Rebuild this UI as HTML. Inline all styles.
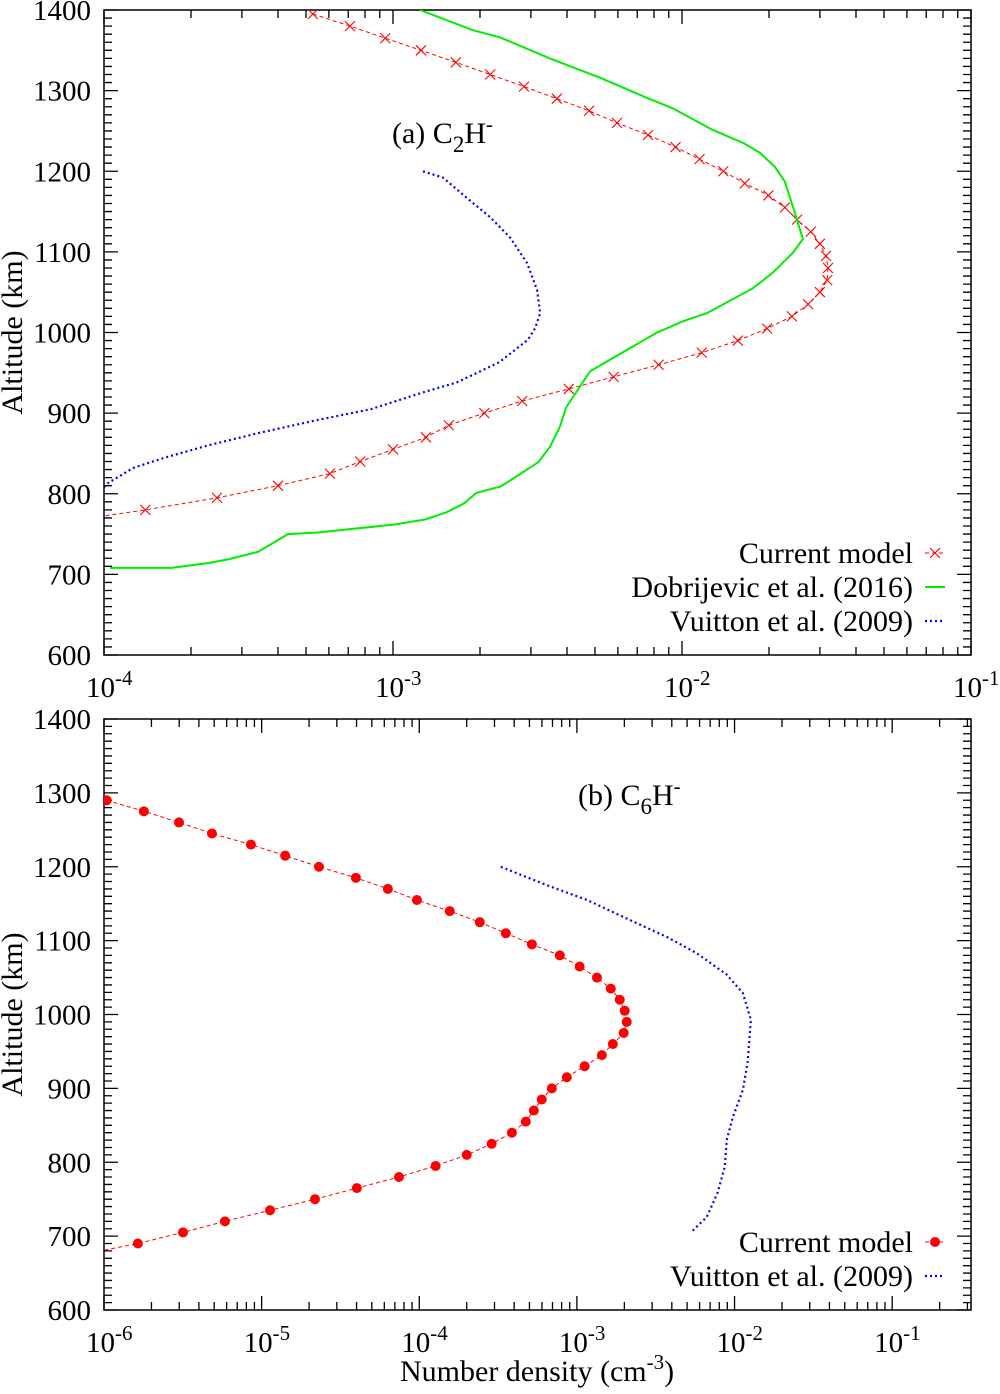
<!DOCTYPE html>
<html><head><meta charset="utf-8"><style>
body{margin:0;background:#fff}
svg text{font-family:"Liberation Serif",serif;fill:#000}
</style></head><body>
<svg id="chart" width="1000" height="1389" viewBox="0 0 1000 1389" xmlns="http://www.w3.org/2000/svg">
<defs>
<clipPath id="clipA"><rect x="104" y="10" width="867" height="645"/></clipPath>
<clipPath id="clipB"><rect x="104" y="719" width="867" height="591"/></clipPath>
</defs>
<g id="root"></g>
</svg>
<script>
// ---- Panel (a) C2H- data ----
const aCurAlt=[1395,1380,1365,1350,1335,1320,1305,1290,1275,1260,1245,1230,1215,1200,1185,1170,1155,1140,1125,1110,1095,1080,1065,1050,1035,1020,1005,990,975,960,945,930,915,900,885,870,855,840,825,810,795,780,770];
const aCurVal=[5.28e-4,7.1e-4,9.4e-4,1.25e-3,1.65e-3,2.17e-3,2.84e-3,3.69e-3,4.77e-3,5.96e-3,7.63e-3,9.5e-3,1.15e-2,1.39e-2,1.65e-2,1.99e-2,2.27e-2,2.5e-2,2.79e-2,3.0e-2,3.15e-2,3.2e-2,3.18e-2,3.0e-2,2.73e-2,2.4e-2,1.97e-2,1.56e-2,1.17e-2,8.3e-3,5.8e-3,4.06e-3,2.8e-3,2.07e-3,1.56e-3,1.3e-3,1.0e-3,7.7e-4,6.05e-4,4.0e-4,2.46e-4,1.39e-4,9e-5];
const aDobAlt=[1400,1375,1366,1340,1316,1291,1278,1251,1235,1223,1205,1187,1156,1116,1099,1074,1055,1024,1014,1000,952,907,883,858,839,809,801,788,777,768,762,752,750,728,719,714,708,708];
const aDobVal=[1.24e-3,1.89e-3,2.35e-3,3.49e-3,5.2e-3,7.57e-3,9.3e-3,1.28e-2,1.63e-2,1.86e-2,2.1e-2,2.27e-2,2.42e-2,2.62e-2,2.42e-2,2.06e-2,1.76e-2,1.22e-2,1.01e-2,8.2e-3,4.81e-3,3.97e-3,3.78e-3,3.49e-3,3.18e-3,2.36e-3,1.94e-3,1.76e-3,1.53e-3,1.29e-3,1.02e-3,5.5e-4,4.33e-4,3.41e-4,2.71e-4,2.29e-4,1.71e-4,1.05e-4];
const aVuiAlt=[1200,1192,1167,1143,1118,1086,1053,1024,1005,991,963,938,925,905,891,876,860,845,832,813,800];
const aVuiVal=[1.27e-3,1.49e-3,1.8e-3,2.17e-3,2.54e-3,2.91e-3,3.15e-3,3.23e-3,3.1e-3,2.93e-3,2.33e-3,1.66e-3,1.25e-3,8.4e-4,5.4e-4,3.49e-4,2.29e-4,1.63e-4,1.26e-4,1.03e-4,9.5e-5];
// ---- Panel (b) C6H- data ----
const bCurAlt=[1290,1275,1260,1245,1230,1215,1200,1185,1170,1155,1140,1125,1110,1095,1080,1065,1050,1035,1020,1005,990,975,960,945,930,915,900,885,870,855,840,825,810,795,780,765,750,735,720,705,690,680];
const bCurVal=[1.04e-6,1.79e-6,2.99e-6,4.84e-6,8.55e-6,1.41e-5,2.31e-5,3.96e-5,6.32e-5,9.66e-5,1.56e-4,2.42e-4,3.54e-4,5.18e-4,7.79e-4,1.04e-3,1.34e-3,1.64e-3,1.87e-3,2.01e-3,2.07e-3,1.98e-3,1.69e-3,1.44e-3,1.12e-3,8.63e-4,6.93e-4,5.98e-4,5.33e-4,4.74e-4,3.87e-4,2.88e-4,2.0e-4,1.27e-4,7.43e-5,4.02e-5,2.18e-5,1.13e-5,5.85e-6,3.17e-6,1.64e-6,9.5e-7];
const bVuiAlt=[1200,1175,1155,1128,1105,1083,1054,1029,993,935,898,861,830,794,759,726,706];
const bVuiVal=[3.29e-4,6.44e-4,1.16e-3,2.16e-3,3.72e-3,5.75e-3,8.92e-3,1.13e-2,1.27e-2,1.21e-2,1.13e-2,9.75e-3,8.92e-3,8.67e-3,7.82e-3,6.67e-3,5.35e-3];
const yTicks=[600,700,800,900,1000,1100,1200,1300,1400];
const aXExp=[-4,-3,-2,-1];
const bXExp=[-6,-5,-4,-3,-2,-1];

const NS="http://www.w3.org/2000/svg";
const root=document.getElementById('root');
function mk(tag,attrs,parent){const e=document.createElementNS(NS,tag);for(const k in attrs)e.setAttribute(k,attrs[k]);(parent||root).appendChild(e);return e;}

function panel(P){
  const g=mk('g',{});
  
  
  const X=v=>P.x0+(Math.log10(v)-P.lmin)/(P.lmax-P.lmin)*(P.x1-P.x0);
  const Y=a=>P.y1-(a-600)/800*(P.y1-P.y0);
  const fr=mk('rect',{x:P.x0,y:P.y0,width:P.x1-P.x0,height:P.y1-P.y0,fill:'none',stroke:'#000','stroke-width':1.5},g);
  
  
  let d='';
  for(let a=600;a<=1400;a+=10){const y=Y(a);const L=(a%100===0)?14:8;d+=`M${P.x0},${y}h${L}M${P.x1},${y}h${-L}`;}
  for(let e=Math.floor(P.lmin);e<=Math.ceil(P.lmax);e++){for(let m=1;m<=9;m++){const l=e+Math.log10(m);if(l<P.lmin-1e-9||l>P.lmax+1e-9)continue;const x=X(Math.pow(10,l));const L=m===1?14:8;d+=`M${x},${P.y1}v${-L}M${x},${P.y0}v${L}`;}}
  const tk=mk('path',{d:d,stroke:'#000','stroke-width':1.3,fill:'none'},g);
  
  
  yTicks.forEach(a=>{const t=mk('text',{x:P.x0-13,y:Y(a)+10,'text-anchor':'end','font-size':29},g);t.textContent=a;
    
    });
  P.xExp.forEach(e=>{const t=mk('text',{x:X(Math.pow(10,e))-18,y:P.y1+42,'text-anchor':'start','font-size':29},g);
    
    
    const a=mk('tspan',{},t);a.textContent='10';const b=mk('tspan',{dy:-12,'font-size':21},t);b.textContent=String(e);});
  const yt=mk('text',{x:0,y:0,transform:`translate(22,${(P.y0+P.y1)/2}) rotate(-90)`,'text-anchor':'middle','font-size':30},g);
  yt.textContent='Altitude (km)';
  
  
  const cg=mk('g',{'clip-path':`url(#${P.clip})`},g);
  P.series.forEach(s=>{
    const pts=s.alt.map((a,i)=>`${X(s.val[i]).toFixed(1)},${Y(a).toFixed(1)}`).join(' ');
    const pl=mk('polyline',{points:pts,fill:'none',stroke:s.color,'stroke-width':s.w,'stroke-dasharray':s.dash||'none'},cg);
    
    
    if(s.marker){s.alt.forEach((a,i)=>{const x=X(s.val[i]),y=Y(a);if(x<P.x0)return;
      if(s.marker==='x'){const m=mk('path',{d:`M${x-5},${y-5}L${x+5},${y+5}M${x-5},${y+5}L${x+5},${y-5}`,stroke:s.color,'stroke-width':1.1},cg);
        
        }
      else{const m=mk('circle',{cx:x,cy:y,r:5,fill:s.color},cg);
        
        }});}
  });
  const lb=mk('text',{x:P.lab[0],y:P.lab[1],'font-size':30},g);
  
  
  const t1=mk('tspan',{},lb);t1.textContent=P.lab[2];
  const t2=mk('tspan',{dy:9,'font-size':23},lb);t2.textContent=P.lab[3];
  const t3=mk('tspan',{dy:-9},lb);t3.textContent='H';
  const t4=mk('tspan',{dy:-12,'font-size':21},lb);t4.textContent='-';
  P.series.forEach((s,i)=>{const y=P.legY+i*34;
    const lg=mk('g',{},g);
    
    
    const t=mk('text',{x:913,y:y+10,'text-anchor':'end','font-size':30},lg);t.textContent=s.label;
    mk('line',{x1:925,y1:y,x2:945,y2:y,stroke:s.color,'stroke-width':s.w,'stroke-dasharray':s.dash||'none'},lg);
    if(s.marker==='x')mk('path',{d:`M930,${y-5}L940,${y+5}M930,${y+5}L940,${y-5}`,stroke:s.color,'stroke-width':1.1},lg);
    if(s.marker==='o')mk('circle',{cx:935,cy:y,r:5,fill:s.color},lg);
  });
}
panel({name:'panel-a-c2h',x0:104,x1:971,y0:10,y1:655,lmin:-4,lmax:-1,xExp:aXExp,clip:'clipA',legY:553,
  lab:[392,143,'(a) C','2'],
  series:[
   {id:'current-model',label:'Current model',alt:aCurAlt,val:aCurVal,color:'#ff0000',w:1,dash:'4,3',marker:'x'},
   {id:'dobrijevic-2016',label:'Dobrijevic et al. (2016)',alt:aDobAlt,val:aDobVal,color:'#00ee00',w:2},
   {id:'vuitton-2009',label:'Vuitton et al. (2009)',alt:aVuiAlt,val:aVuiVal,color:'#0000ff',w:2.2,dash:'2,3'}]});
panel({name:'panel-b-c6h',x0:104,x1:971,y0:719,y1:1310,lmin:-6,lmax:-0.5,xExp:bXExp,clip:'clipB',legY:1242,
  lab:[578,805,'(b) C','6'],
  series:[
   {id:'current-model-b',label:'Current model',alt:bCurAlt,val:bCurVal,color:'#ff0000',w:1,dash:'4,3',marker:'o'},
   {id:'vuitton-2009-b',label:'Vuitton et al. (2009)',alt:bVuiAlt,val:bVuiVal,color:'#0000ff',w:2.2,dash:'2,3'}]});
const xl=mk('text',{x:400,y:1381,'font-size':30});


const x1=mk('tspan',{},xl);x1.textContent='Number density (cm';
const x2=mk('tspan',{dy:-12,'font-size':21},xl);x2.textContent='-3';
const x3=mk('tspan',{dy:12},xl);x3.textContent=')';
</script>
</body></html>
